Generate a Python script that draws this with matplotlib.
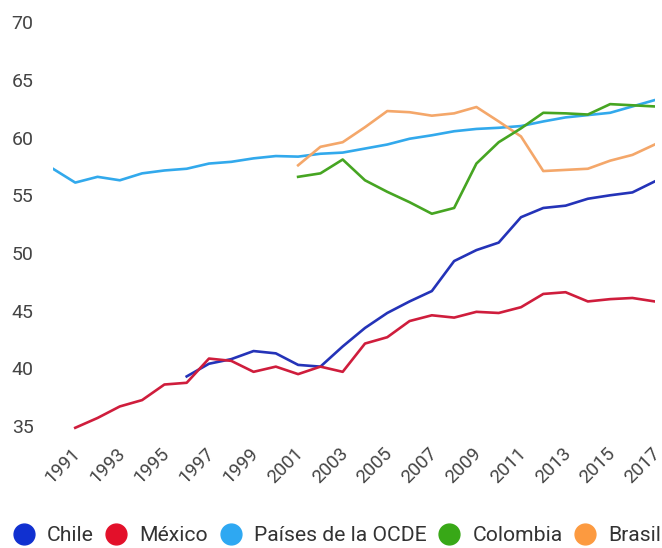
import numpy as np
import matplotlib.pyplot as plt
from matplotlib.lines import Line2D
from matplotlib.transforms import ScaledTranslation

plt.rcParams["font.family"] = ["Roboto", "DejaVu Sans"]

# -------- data --------
years_ocde = list(range(1990, 2018))
ocde = [57.3, 56.1, 56.6, 56.3, 56.9, 57.15, 57.3, 57.75, 57.9, 58.2,
        58.4, 58.35, 58.6, 58.7, 59.05, 59.4, 59.9, 60.2, 60.55, 60.75,
        60.85, 61.0, 61.4, 61.75, 61.95, 62.15, 62.7, 63.25]

years_mex = list(range(1991, 2018))
mexico = [34.85, 35.7, 36.7, 37.25, 38.6, 38.75, 40.85, 40.65, 39.7, 40.15,
          39.5, 40.15, 39.7, 42.15, 42.7, 44.1, 44.6, 44.4, 44.9, 44.8,
          45.3, 46.45, 46.6, 45.8, 46.0, 46.1, 45.8]

years_chile = list(range(1996, 2018))
chile = [39.3, 40.4, 40.8, 41.5, 41.3, 40.3, 40.15, 41.9, 43.5, 44.8,
         45.8, 46.7, 49.3, 50.25, 50.9, 53.1, 53.9, 54.1, 54.7, 55.0,
         55.25, 56.2]

years_col = list(range(2001, 2018))
colombia = [56.6, 56.9, 58.1, 56.3, 55.3, 54.4, 53.4, 53.9, 57.75, 59.6,
            60.8, 62.15, 62.1, 62.0, 62.9, 62.8, 62.7]

years_bra = list(range(2001, 2018))
brasil = [57.6, 59.2, 59.6, 60.9, 62.3, 62.2, 61.9, 62.1, 62.65, 61.4,
          60.1, 57.1, 57.2, 57.3, 58.0, 58.5, 59.4]

xticks = list(range(1991, 2018, 2))
yticks = [35, 40, 45, 50, 55, 60, 65, 70]

names = ["Chile", "México", "Países de la OCDE", "Colombia", "Brasil"]
line_colors = ["#2433b8", "#cf1d3c", "#32a9ec", "#46a522", "#f4a76a"]
dot_colors = ["#1030d0", "#e3102a", "#2ea8f2", "#38a817", "#fc9a40"]

# -------- plot --------
fig = plt.figure(figsize=(6.62, 5.48), dpi=100)
ax = fig.add_axes([0.080, 0.212, 0.909, 0.758])

series = [(years_chile, chile), (years_mex, mexico), (years_ocde, ocde),
          (years_col, colombia), (years_bra, brasil)]
order = [2, 4, 3, 0, 1]
for i in order:
    xs, ys = series[i]
    ax.plot(xs, ys, color=line_colors[i], lw=1.9, solid_joinstyle="round")

ax.set_xlim(1990, 2017)
ax.set_ylim(34.5, 70.5)
ax.set_xticks(xticks)
ax.set_yticks(yticks)
ax.tick_params(length=0, colors="#444444")
ax.tick_params(axis="y", pad=14, labelsize=14)
ax.tick_params(axis="x", pad=9, labelsize=13.5)
shift = ScaledTranslation(-4 / 100, 0, fig.dpi_scale_trans)
for lab in ax.get_xticklabels():
    lab.set_rotation(45)
    lab.set_ha("right")
    lab.set_rotation_mode("anchor")
    lab.set_transform(lab.get_transform() + shift)
for s in ax.spines.values():
    s.set_visible(False)

handles = [Line2D([], [], ls="none", marker="o", markersize=15,
                  markerfacecolor=c, markeredgecolor=c) for c in dot_colors]
fig.legend(handles, names, loc="center left", bbox_to_anchor=(0.0196, 0.022),
           ncol=5, frameon=False, fontsize=15.2, handlelength=1.0,
           handletextpad=0.6, columnspacing=0.57, borderpad=0,
           borderaxespad=0, labelcolor="#333333")

fig.savefig("out.png", dpi=100)
